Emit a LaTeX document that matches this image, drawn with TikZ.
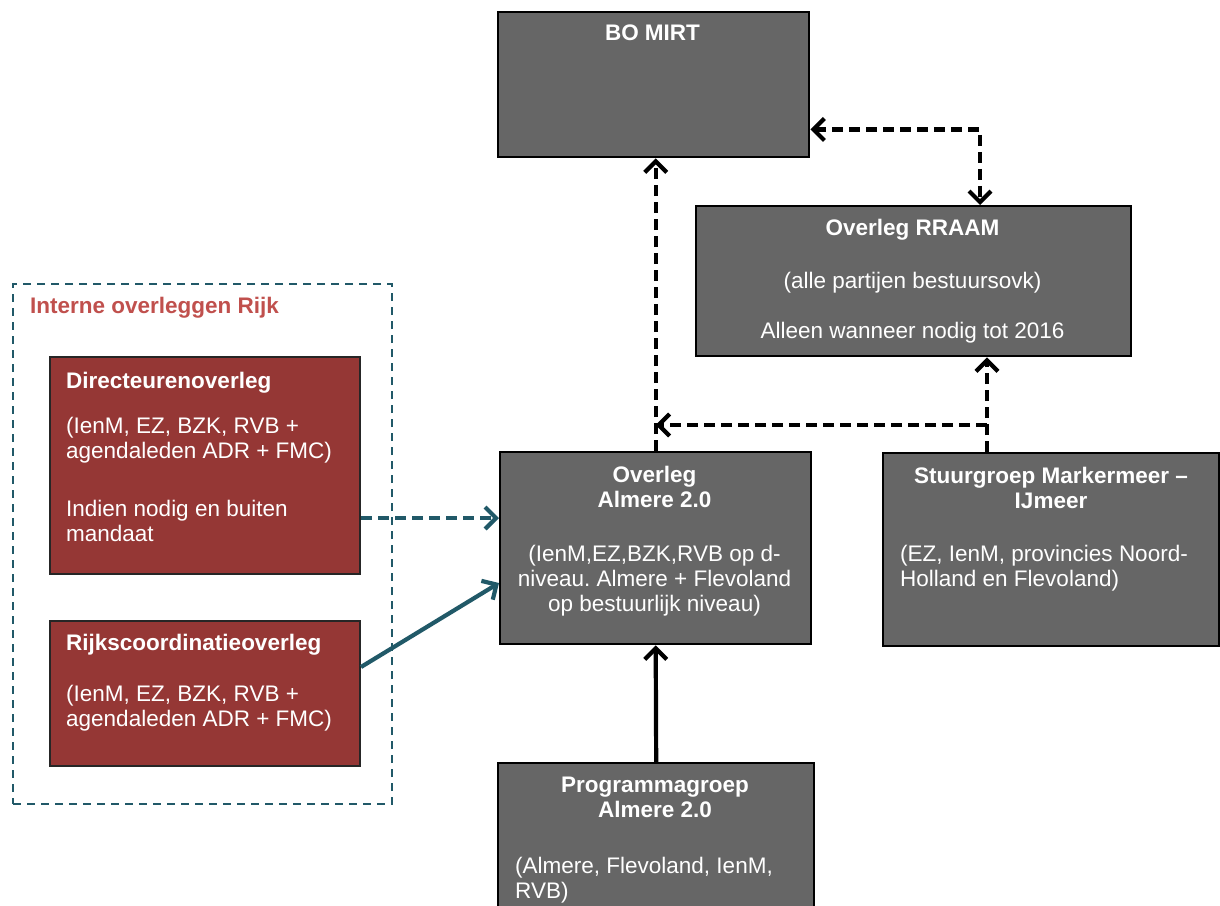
\documentclass[tikz,border=0pt]{standalone}
\usepackage{fontspec}
\setmainfont{Liberation Sans}
\frenchspacing
\usetikzlibrary{arrows.meta,calc,positioning}
\definecolor{boxgray}{HTML}{666666}
\definecolor{boxred}{HTML}{953735}
\definecolor{teal5}{HTML}{215968}
\definecolor{titlered}{HTML}{C0504D}
\tikzset{
  mybarb/.tip={Straight Barb[length=11pt,width=22pt]},
  gbox/.style={draw=black, fill=boxgray, line width=2.4pt, anchor=north west, inner sep=0pt},
  rbox/.style={draw=black!85, fill=boxred, line width=2pt, anchor=north west, inner sep=0pt},
  txt/.style={text=white, inner sep=0pt, font=\fontsize{22.5}{25}\selectfont},
  ctxt/.style={txt, align=center, anchor=north},
  ltxt/.style={txt, align=left, anchor=north west},
  frame/.style={draw=teal5, line width=2.4pt, dash pattern=on 8pt off 6pt},
  blkdash/.style={draw=black, line width=4.2pt, dash pattern=on 11pt off 6pt},
  blksolid/.style={draw=black, line width=4.2pt},
  tealdash/.style={draw=teal5, line width=4.2pt, dash pattern=on 11pt off 6pt},
  tealsolid/.style={draw=teal5, line width=4.2pt}
}
\begin{document}
\begin{tikzpicture}[x=1pt,y=-1pt]
\useasboundingbox (0,0) rectangle (1220,905);
% container
\node[frame, anchor=north west, minimum width=379pt, minimum height=520pt, inner sep=0pt] (cont) at (12,283) {};
\node[txt, anchor=north west, text=titlered, font=\fontsize{22.5}{25}\selectfont\bfseries] (conttitle) at (30,297) {Interne overleggen Rijk};
% boxes
\node[gbox, minimum width=311pt, minimum height=145pt] (bomirt) at (497,11) {};
\node[gbox, minimum width=435pt, minimum height=150pt] (rraam) at (695,205) {};
\node[gbox, minimum width=311pt, minimum height=192pt] (almere) at (499,451) {};
\node[gbox, minimum width=336pt, minimum height=193pt] (stuur) at (882,452) {};
\node[gbox, minimum width=316pt, minimum height=160pt] (prog) at (497,762) {};
\node[rbox, minimum width=310pt, minimum height=217pt] (dir) at (49,356) {};
\node[rbox, minimum width=310pt, minimum height=145pt] (rijks) at (49,620) {};
% texts
\node[ctxt] (tbomirt) at (652.5,25) {\bfseries BO MIRT};
\node[ctxt] (trraam) at (912.5,219) {\bfseries Overleg RRAAM\\[28pt] (alle partijen bestuursovk)\\[25pt] Alleen wanneer nodig tot 2016};
\node[ctxt] (talmere) at (654.5,466) {\bfseries Overleg\\ \bfseries Almere 2.0\\[29pt] (IenM,EZ,BZK,RVB op d-\\ niveau. Almere + Flevoland\\ op bestuurlijk niveau)};
\node[ctxt] (tstuur) at (1051,467) {\bfseries Stuurgroep Markermeer --\\ \bfseries IJmeer};
\node[ltxt] (tstuurb) at (900,545) {(EZ, IenM, provincies Noord-\\ Holland en Flevoland)};
\node[ctxt] (tprog) at (655,777) {\bfseries Programmagroep\\ \bfseries Almere 2.0};
\node[ltxt] (tprogb) at (515,857) {(Almere, Flevoland, IenM,\\ RVB)};
\node[ltxt] (tdir) at (66,372) {\bfseries Directeurenoverleg\\[20pt] (IenM, EZ, BZK, RVB +\\ agendaleden ADR + FMC)\\[33pt] Indien nodig en buiten\\ mandaat};
\node[ltxt] (trijks) at (66,634) {\bfseries Rijkscoordinatieoverleg\\[26pt] (IenM, EZ, BZK, RVB +\\ agendaleden ADR + FMC)};
% helper coordinates
\coordinate (sj) at ($(stuur.north west)+(105,0)$);
\coordinate (bj) at ($(sj)+(0,-27)$);
\coordinate (bm) at ($(bomirt.south east)+(0,-29)$);
\coordinate (rt) at ($(rraam.north west)+(285,0)$);
\coordinate (dirout) at ($(dir.north east)+(0,162)$);
\coordinate (rijout) at ($(rijks.north east)+(0,47)$);
\coordinate (almin) at ($(almere.north west)+(0,132)$);
% connectors
\draw[blkdash, -mybarb] (almere.north) -- (almere.north |- bomirt.south);
\draw[blkdash, -mybarb] (sj) -- (sj |- rraam.south);
\draw[blkdash, -mybarb] (bj) -- (bj -| almere.north);
\draw[blkdash, mybarb-mybarb] (bm) -| (rt);
\draw[blksolid, -mybarb] (prog.north) -- (almere.south);
\draw[tealdash, -mybarb] (dirout) -- (dirout -| almere.west);
\draw[tealsolid, -mybarb] (rijout) -- (almin);
\end{tikzpicture}
\end{document}
